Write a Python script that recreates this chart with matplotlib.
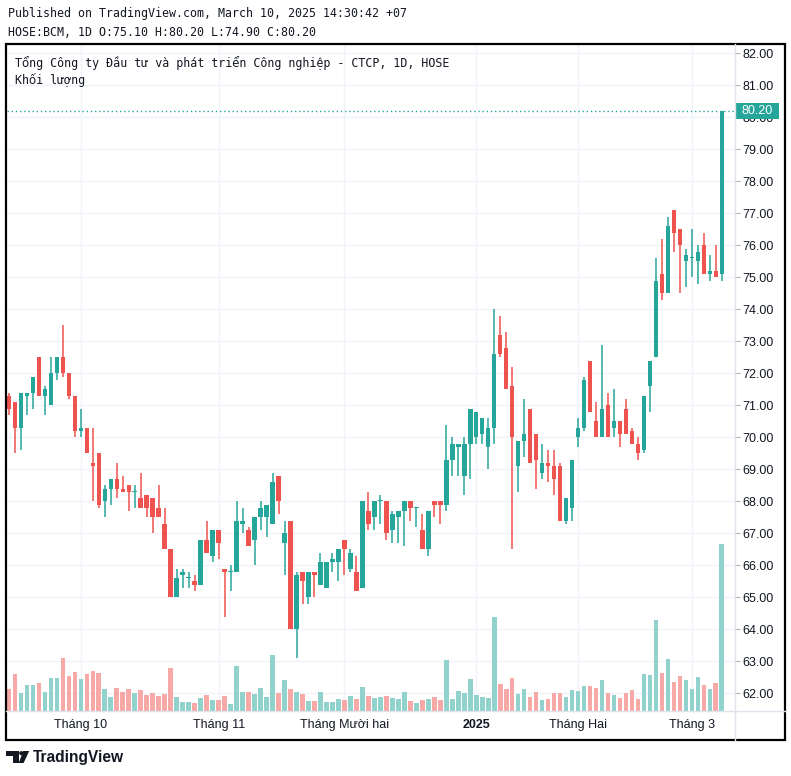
import matplotlib
matplotlib.use("Agg")
import matplotlib.pyplot as plt
import matplotlib.transforms as mtransforms
from matplotlib.patches import Rectangle, Polygon, Circle

# ---------------- data ----------------
opens = [71.3, 71.1, 70.3, 71.3, 71.4, 72.5, 71.3, 71.0, 72.0, 72.5,
         72.0, 71.3, 70.2, 70.3, 69.2, 69.5, 68.0, 68.4, 68.7, 68.4,
         68.5, 68.3, 68.1, 68.2, 68.1, 67.8, 67.3, 66.5, 65.0, 65.7,
         65.6, 65.5, 65.4, 66.8, 66.3, 67.1, 65.9, 65.8, 65.8, 67.3,
         67.1, 66.8, 67.5, 67.5, 67.3, 68.8, 66.7, 67.4, 64.0, 65.8,
         65.0, 65.8, 65.4, 65.3, 66.1, 66.1, 66.8, 65.9, 65.8, 65.3,
         67.7, 67.5, 68.0, 68.0, 67.1, 67.5, 67.7, 68.0, 67.8, 67.1,
         66.5, 68.0, 68.0, 67.9, 69.3, 69.7, 68.8, 69.8, 70.0, 70.1,
         69.7, 70.3, 73.2, 72.8, 71.6, 69.1, 69.9, 70.9, 70.1, 68.9,
         69.2, 69.1, 69.1, 67.4, 67.8, 70.0, 70.3, 72.4, 70.5, 70.0,
         71.0, 70.3, 70.5, 70.9, 70.2, 69.8, 69.6, 71.6, 72.5, 75.1,
         74.5, 77.1, 76.5, 75.5, 75.6, 75.5, 76.0, 75.1, 75.2, 75.1]
highs = [71.4, 71.1, 71.4, 71.4, 71.9, 72.5, 71.6, 72.5, 72.5, 73.5,
         72.0, 71.3, 70.9, 70.3, 70.3, 69.5, 68.5, 68.7, 69.2, 68.8,
         68.5, 68.5, 68.9, 68.2, 68.1, 68.5, 67.8, 66.5, 65.9, 65.9,
         65.8, 65.7, 66.8, 67.4, 67.1, 67.1, 65.9, 66.0, 68.0, 67.8,
         67.2, 67.5, 68.0, 67.9, 68.9, 68.8, 67.4, 67.4, 65.8, 65.8,
         65.8, 65.8, 66.4, 66.1, 66.4, 66.5, 66.8, 66.5, 66.3, 68.0,
         68.3, 68.0, 68.2, 68.0, 67.7, 67.7, 68.0, 68.0, 67.8, 67.6,
         67.7, 68.0, 68.0, 70.4, 70.0, 69.8, 70.0, 70.9, 70.8, 70.6,
         70.6, 74.0, 73.8, 73.3, 72.2, 69.9, 71.2, 70.9, 70.1, 69.8,
         69.6, 69.6, 69.2, 68.1, 69.3, 70.6, 71.9, 72.4, 71.1, 72.9,
         71.4, 71.5, 70.5, 71.2, 70.3, 70.0, 71.3, 72.4, 75.6, 76.2,
         76.9, 77.1, 76.5, 75.9, 76.5, 76.0, 76.4, 75.7, 76.0, 80.2]
lows = [70.7, 69.5, 69.6, 70.7, 70.9, 71.3, 70.7, 71.0, 71.8, 71.9,
        71.2, 70.0, 70.0, 69.5, 68.0, 67.8, 67.5, 67.9, 68.1, 68.3,
        67.7, 67.8, 67.8, 67.5, 67.0, 67.5, 66.5, 65.0, 65.0, 65.3,
        65.3, 65.2, 65.4, 66.4, 66.1, 66.2, 64.4, 65.2, 65.8, 67.0,
        66.6, 66.0, 67.1, 66.9, 67.3, 67.6, 65.7, 64.0, 63.1, 64.8,
        64.8, 65.0, 65.4, 65.3, 65.8, 65.5, 65.7, 65.8, 65.2, 65.3,
        67.1, 67.1, 67.3, 66.8, 66.7, 66.7, 66.6, 67.4, 67.2, 66.5,
        66.3, 67.5, 67.3, 67.7, 68.8, 68.8, 68.2, 68.7, 69.8, 69.8,
        69.0, 69.8, 72.5, 71.5, 66.5, 68.3, 69.4, 69.2, 68.4, 68.7,
        68.6, 68.2, 67.4, 67.3, 67.4, 69.7, 70.2, 70.8, 70.0, 70.0,
        70.0, 70.0, 69.7, 70.1, 69.8, 69.3, 69.5, 70.8, 72.5, 74.3,
        74.5, 75.8, 74.5, 74.7, 75.0, 74.8, 75.1, 74.9, 75.0, 74.9]
closes = [70.9, 70.3, 71.4, 71.4, 71.9, 71.3, 71.5, 72.0, 72.5, 72.0,
          71.3, 70.2, 70.3, 69.5, 69.1, 67.9, 68.4, 68.7, 68.4, 68.3,
          68.3, 68.3, 67.8, 67.8, 67.5, 67.5, 66.5, 65.0, 65.6, 65.8,
          65.6, 65.4, 66.8, 66.4, 67.1, 66.7, 65.8, 65.8, 67.4, 67.4,
          66.6, 67.5, 67.8, 67.9, 68.6, 68.0, 67.0, 64.0, 65.7, 65.5,
          65.8, 65.7, 66.1, 66.1, 66.2, 66.5, 66.5, 66.4, 65.2, 68.0,
          67.3, 68.0, 68.0, 67.0, 67.6, 67.7, 68.0, 67.8, 67.8, 66.5,
          67.7, 67.9, 67.9, 69.3, 69.8, 69.8, 69.8, 70.9, 70.8, 70.6,
          70.3, 72.6, 72.6, 71.5, 70.0, 69.9, 70.1, 69.2, 69.3, 69.2,
          69.1, 68.7, 67.4, 68.1, 69.3, 70.3, 71.8, 70.8, 70.0, 70.9,
          70.0, 70.5, 70.1, 70.1, 69.8, 69.5, 71.3, 72.4, 74.9, 74.5,
          76.6, 76.4, 76.0, 75.7, 75.6, 75.8, 75.1, 75.2, 75.0, 80.2]
# volume bar heights, relative units
volumes = [22, 37, 18, 26, 26, 28, 19, 33, 33, 53,
           35, 39, 32, 37, 40, 38, 22, 14, 23, 19,
           22, 18, 21, 16, 18, 15, 17, 43, 14, 9,
           9, 8, 13, 16, 11, 11, 15, 7, 45, 19,
           19, 17, 23, 14, 56, 18, 31, 22, 19, 17,
           10, 10, 19, 9, 9, 12, 11, 15, 12, 24,
           15, 13, 14, 15, 13, 12, 19, 10, 8, 11,
           12, 14, 11, 51, 12, 20, 18, 32, 16, 14,
           13, 94, 27, 22, 33, 17, 22, 14, 19, 11,
           12, 18, 18, 14, 21, 20, 25, 25, 23, 31,
           18, 16, 13, 18, 21, 12, 37, 36, 91, 38,
           52, 29, 35, 31, 22, 34, 26, 22, 28, 167]
month_ticks = [12, 35, 56, 78, 95, 114]
month_labels = ["Tháng 10", "Tháng 11", "Tháng Mười hai", "2025", "Tháng Hai", "Tháng 3"]
price_ticks = list(range(62, 83))

header1 = "Published on TradingView.com, March 10, 2025 14:30:42 +07"
header2 = "HOSE:BCM, 1D O:75.10 H:80.20 L:74.90 C:80.20"
title = "Tổng Công ty Đầu tư và phát triển Công nghiệp - CTCP, 1D, HOSE"
vol_title = "Khối lượng"

# ---------------- style ----------------
UP = "#26a69a"
DOWN = "#ef5350"
UP_V = "#92d2cc"
DOWN_V = "#f7a9a7"
GRID = "#f0f3fa"
TXT = "#131722"
SANS = ["Liberation Sans", "DejaVu Sans"]
MONO = ["DejaVu Sans Mono", "DejaVu Sans"]

W, H = 791, 776
fig = plt.figure(figsize=(W / 100, H / 100), dpi=100)
fig.patch.set_facecolor("white")

def fx(x):
    return x / W

def fy(y):
    return 1 - y / H

L, R, T, B = 7, 735, 44, 711
rect = [fx(L), fy(B), fx(R) - fx(L), fy(T) - fy(B)]
vax = fig.add_axes(rect)
ax = fig.add_axes(rect)
ax.patch.set_visible(False)

n = len(closes)
idx = list(range(n))
xmin, xmax = -0.33, 121.2
ax.set_xlim(xmin, xmax)
vax.set_xlim(xmin, xmax)
ax.set_ylim(61.45, 82.29)
vax.set_ylim(0, B - T)

# gridlines (behind the volume)
blend = mtransforms.blended_transform_factory(vax.transAxes, ax.transData)
for p in price_ticks:
    vax.plot([0, 1], [p, p], color=GRID, lw=1, transform=blend, zorder=0)
for m in month_ticks:
    vax.axvline(m, color=GRID, lw=1, zorder=0)

# volume
vcols = [UP_V if c >= o else DOWN_V for o, c in zip(opens, closes)]
vax.bar(idx, volumes, width=0.78, color=vcols, zorder=2, linewidth=0)

# candles
cols = [UP if c >= o else DOWN for o, c in zip(opens, closes)]
ax.vlines(idx, lows, highs, colors=cols, lw=1.1, zorder=3)
bottoms = [min(o, c) for o, c in zip(opens, closes)]
heights = [max(abs(c - o), 0.035) for o, c in zip(opens, closes)]
ax.bar(idx, heights, bottom=bottoms, width=0.76, color=cols, zorder=4, linewidth=0)

# last price line and label
last = closes[-1]
ax.axhline(last, color=UP, lw=1, ls=(0, (1, 2)), zorder=2)
bl = mtransforms.blended_transform_factory(ax.transAxes, ax.transData)
bw = 44 / (R - L)
ax.add_patch(Rectangle((1.0, last - 0.26), bw, 0.52, transform=bl, clip_on=False,
                       facecolor=UP, edgecolor="none", zorder=6))
ax.text(1.0 + bw / 2, last, f"{last:.2f}", transform=bl, ha="center", va="center",
        color="white", fontsize=9, family=SANS, zorder=7, clip_on=False)

# axes styling
for a in (ax, vax):
    for s in a.spines.values():
        s.set_visible(False)
vax.set_xticks([])
vax.set_yticks([])
ax.yaxis.tick_right()
ax.set_yticks(price_ticks)
ax.set_yticklabels([f"{p:.2f}" for p in price_ticks])
ax.tick_params(axis="y", length=3.6, width=0.8, color="#b2b5be", pad=1.8,
               labelsize=9, labelcolor=TXT)
ax.set_xticks(month_ticks)
ax.set_xticklabels(month_labels)
ax.tick_params(axis="x", length=0, pad=6, labelsize=9, labelcolor=TXT)
for lab in ax.get_yticklabels() + ax.get_xticklabels():
    lab.set_family(SANS)
ax.get_xticklabels()[3].set_fontweight("bold")

# overlay for frame and texts
ov = fig.add_axes([0, 0, 1, 1], zorder=10)
ov.set_xlim(0, W)
ov.set_ylim(H, 0)
ov.axis("off")
ov.patch.set_alpha(0)
ov.add_patch(Rectangle((6, 43.5), 778.5, 696, fill=False, edgecolor="black", lw=1.6))
ov.plot([R, R], [43.5, 739.5], color="#e0e3eb", lw=1)
ov.plot([6, 784.5], [B, B], color="#e0e3eb", lw=1)

ov.text(8, 14, header1, family=MONO, fontsize=8.4, va="center", ha="left", color=TXT)
ov.text(8, 32, header2, family=MONO, fontsize=8.4, va="center", ha="left", color=TXT)
ov.text(15, 63, title, family=MONO, fontsize=8.4, va="center", ha="left", color=TXT)
ov.text(15, 80, vol_title, family=MONO, fontsize=8.4, va="center", ha="left", color=TXT)

# TradingView logo
ov.add_patch(Polygon([(6, 751), (19, 751), (19, 763), (13, 763), (13, 755.5), (6, 755.5)],
                     closed=True, facecolor=TXT, edgecolor="none"))
ov.add_patch(Circle((21.3, 753.2), 2.1, facecolor=TXT, edgecolor="none"))
ov.add_patch(Polygon([(23.2, 751), (29.2, 751), (23.6, 763), (18.8, 763)],
                     closed=True, facecolor=TXT, edgecolor="none"))
ov.text(33, 757.5, "TradingView", family=SANS, fontweight="bold", fontsize=11.2,
        va="center", ha="left", color=TXT)

fig.savefig("out.png", dpi=100)
